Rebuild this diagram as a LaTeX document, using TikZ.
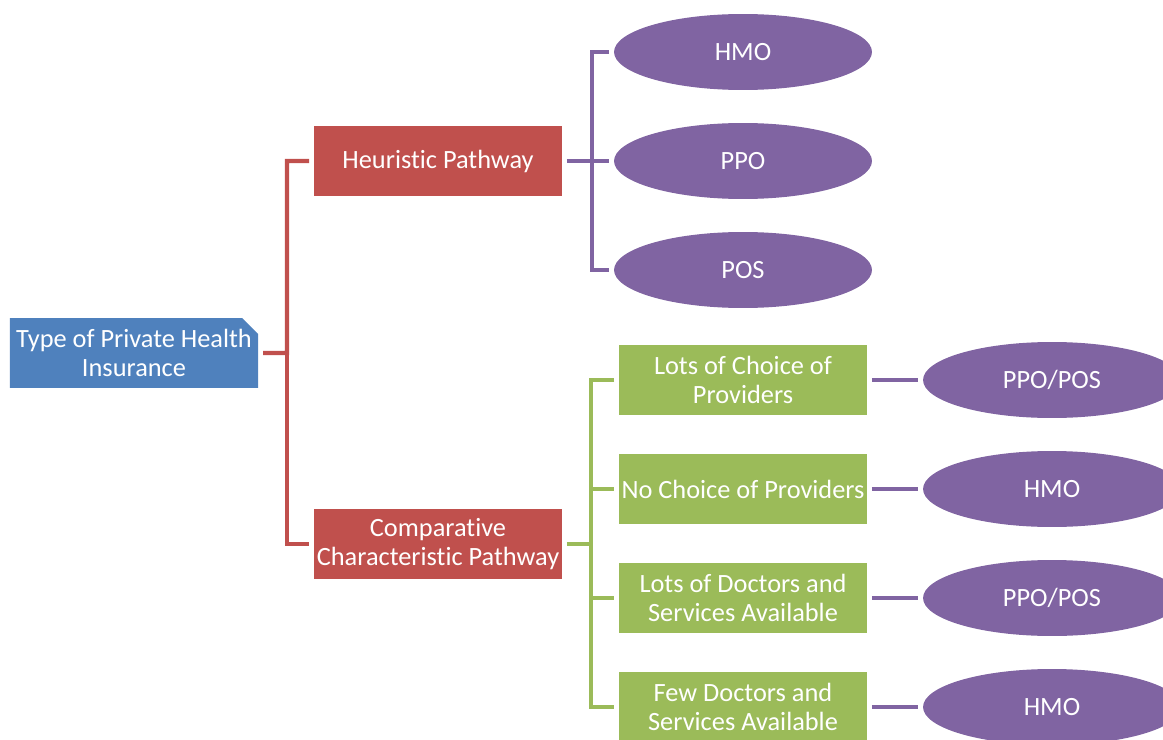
\documentclass[tikz,border=0pt]{standalone}
\usepackage{fontspec}
\setmainfont{Carlito}[Ligatures={NoCommon,NoContextual}]
\usetikzlibrary{shapes,positioning}
\definecolor{rootblue}{HTML}{4F81BD}
\definecolor{pathred}{HTML}{C0504D}
\definecolor{featgreen}{HTML}{9BBB59}
\definecolor{planpurple}{HTML}{8064A2}

\begin{document}
\begin{tikzpicture}[x=0.02cm,y=-0.02cm,
    every node/.append style={font=\fontsize{15}{16.5}\selectfont, text=white,
                    align=center, inner sep=1pt, outer sep=0.1cm},
    rootbox/.style={chamfered rectangle, chamfered rectangle corners=north east,
                    chamfered rectangle xsep=0.16cm, chamfered rectangle ysep=0.16cm,
                    inner xsep=-1pt, fill=rootblue, minimum width=4.80cm, minimum height=1.40cm},
    pathbox/.style={rectangle, fill=pathred, minimum width=4.96cm, minimum height=1.42cm},
    featbox/.style={rectangle, fill=featgreen, minimum width=4.96cm, minimum height=1.42cm},
    plan/.style={ellipse, fill=planpurple, minimum width=5.16cm, minimum height=1.52cm},
    link/.style={line width=2.3pt}]
    \useasboundingbox (0,0) rectangle (1163,740);
    \clip (0,0) rectangle (1163,740);
    % root and the two pathways
    \node[rootbox] (root) at (134,353) {Type of Private Health\\Insurance};
    \node[pathbox] (heur) at (438,161) {Heuristic Pathway};
    \node[pathbox] (comp) at (438,544) {Comparative\\Characteristic Pathway};
    \coordinate (rootfork) at (287,353);
    \draw[link,pathred] (root) -- (rootfork) |- (heur.west);
    \draw[link,pathred] (rootfork) |- (comp.west);
    % heuristic plans
    \node[plan] (hmo) at (743,52) {HMO};
    \node[plan] (ppo) at (743,161) {PPO};
    \node[plan] (pos) at (743,270) {POS};
    \coordinate (heurfork) at (592,161);
    \draw[link,planpurple] (heur) -- (ppo);
    \draw[link,planpurple] (hmo.west) -| (heurfork) |- (pos.west);
    % comparative characteristics
    \node[featbox] (lotschoice) at (743,380) {Lots of Choice of\\Providers};
    \node[featbox] (nochoice) at (743,489) {No Choice of Providers};
    \node[featbox] (lotsdoc) at (743,598) {Lots of Doctors and\\Services Available};
    \node[featbox] (fewdoc) at (743,707) {Few Doctors and\\Services Available};
    \coordinate (compfork) at (591,544);
    \draw[link,featgreen] (comp) -- (compfork);
    \draw[link,featgreen] (lotschoice.west) -| (compfork) |- (fewdoc.west);
    \draw[link,featgreen] (compfork |- nochoice) -- (nochoice);
    \draw[link,featgreen] (compfork |- lotsdoc) -- (lotsdoc);
    % matching plans
    \node[plan] (planA) at (1052,380) {PPO/POS};
    \node[plan] (planB) at (1052,489) {HMO};
    \node[plan] (planC) at (1052,598) {PPO/POS};
    \node[plan] (planD) at (1052,707) {HMO};
    \draw[link,planpurple] (lotschoice) -- (planA);
    \draw[link,planpurple] (nochoice) -- (planB);
    \draw[link,planpurple] (lotsdoc) -- (planC);
    \draw[link,planpurple] (fewdoc) -- (planD);
\end{tikzpicture}
\end{document}
